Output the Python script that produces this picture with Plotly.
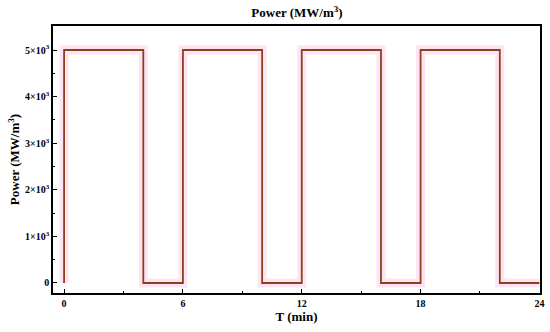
import plotly.graph_objects as go

time_min = [0, 0, 4, 4, 6, 6, 10, 10, 12, 12, 16, 16, 18, 18, 22, 22, 24]
power = [0, 5000, 5000, 0, 0, 5000, 5000, 0, 0, 5000, 5000, 0, 0, 5000, 5000, 0, 0]
y_tick_vals = [0, 1000, 2000, 3000, 4000, 5000]
y_tick_text = ["<b>0</b>", "<b>1×10<sup>3</sup></b>", "<b>2×10<sup>3</sup></b>", "<b>3×10<sup>3</sup></b>",
               "<b>4×10<sup>3</sup></b>", "<b>5×10<sup>3</sup></b>"]
x_tick_vals = [0, 6, 12, 18, 24]
x_tick_text = ["<b>0</b>", "<b>6</b>", "<b>12</b>", "<b>18</b>", "<b>24</b>"]

serif = "Liberation Serif, Times New Roman, serif"

fig = go.Figure()
fig.add_trace(go.Scatter(x=time_min, y=power, mode="lines",
                         line=dict(color="#FCE4F3", width=9), hoverinfo="skip", showlegend=False))
fig.add_trace(go.Scatter(x=time_min, y=power, mode="lines",
                         line=dict(color="#8E3F1E", width=1.8), showlegend=False))

axis_common = dict(showline=True, linecolor="black", linewidth=1.5, mirror=True,
                   showgrid=False, zeroline=False, ticks="inside", ticklen=4,
                   tickcolor="black", tickwidth=1.2, automargin=False)

fig.update_xaxes(range=[-0.56, 24.03], tickvals=x_tick_vals, ticktext=x_tick_text,
                 tickfont=dict(family=serif, size=10, color="black"),
                 title=dict(text="<b>T (min)</b>", font=dict(family=serif, size=13, color="black"), standoff=1),
                 minor=dict(ticks="inside", ticklen=2, dtick=3, tick0=0, tickcolor="black"),
                 **axis_common)
fig.update_yaxes(range=[-215, 5515], tickvals=y_tick_vals, ticktext=y_tick_text,
                 tickfont=dict(family=serif, size=10, color="black"),
                 title=dict(text="<b>Power (MW/m<sup>3</sup>)</b>", font=dict(family=serif, size=13, color="black"), standoff=2),
                 minor=dict(ticks="inside", ticklen=2, tickvals=[500, 1500, 2500, 3500, 4500], tickcolor="black"),
                 **axis_common)

fig.update_layout(width=550, height=332, margin=dict(l=53, r=10, t=26, b=39),
                  paper_bgcolor="white", plot_bgcolor="white",
                  title=dict(text="<b>Power (MW/m<sup>3</sup>)</b>", x=0.54, xanchor="center", y=0.962, yanchor="middle",
                             font=dict(family=serif, size=13, color="black")))

fig.write_html("out.html", config={"displayModeBar": False},
               post_script="document.body.style.margin='0';document.body.style.overflow='hidden';")
